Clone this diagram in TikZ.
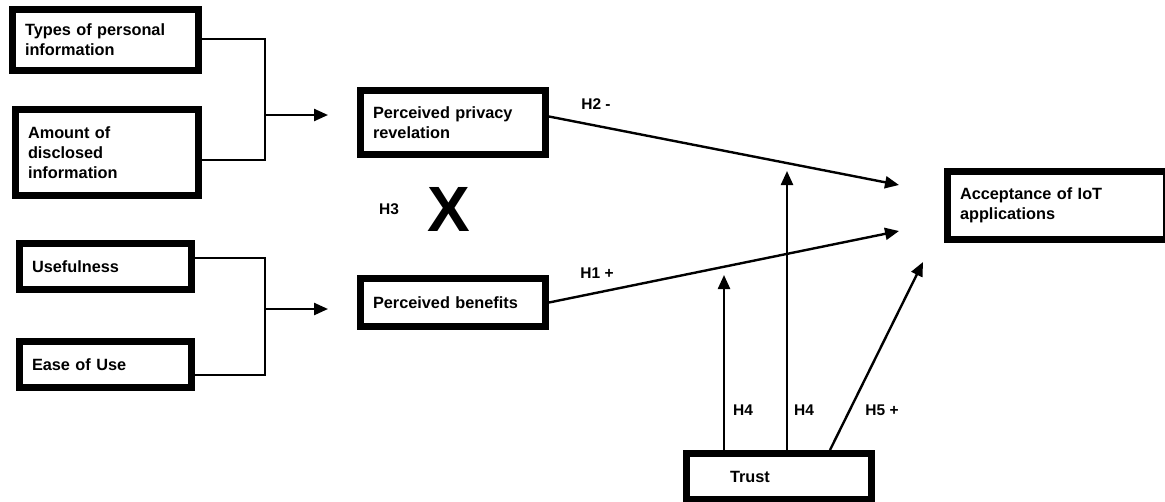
\documentclass[tikz,border=0pt]{standalone}
\usepackage{fontspec}
\setmainfont{Liberation Sans}
\usepackage{tikz}
\usetikzlibrary{arrows.meta,positioning}

\tikzset{
  factor/.style={draw,line width=7pt,inner xsep=12.5pt,inner ysep=0pt,
    align=left,font=\bfseries\fontsize{16.3}{20}\selectfont},
  link/.style={line width=2.4pt},
  arrowlink/.style={link,-{Triangle[length=14pt,width=12pt]}},
  hyplabel/.style={font=\bfseries\fontsize{15.5}{18}\selectfont,inner sep=0pt}
}

\begin{document}
\begin{tikzpicture}[x=1pt,y=-1pt]
\useasboundingbox (0,0) rectangle (1165,501);
% antecedents
\node[factor,text width=161pt,minimum height=61pt] (types) at (105.5,40) {Types of personal\\information};
\node[factor,text width=158pt,minimum height=86pt] (amount) at (107,152.5) {Amount of\\disclosed\\information};
\node[factor,text width=147pt,minimum height=46pt] (useful) at (105.5,266.5) {Usefulness};
\node[factor,text width=147pt,minimum height=46pt] (ease) at (105.5,364.5) {Ease of Use};
% mediators and outcome
\node[factor,text width=160pt,minimum height=64pt] (privacy) at (453,122.5) {Perceived privacy\\revelation};
\node[factor,text width=160pt,minimum height=48pt] (benefits) at (453,302.5) {Perceived benefits};
\node[factor,text width=194pt,minimum height=68pt] (accept) at (1057,205.5) {Acceptance of IoT\\applications};
\node[factor,text width=160pt,minimum height=46pt] (trust) at (779,476.5) {\hspace*{31pt}Trust};

% free ends
\coordinate (jnA) at (265,115);
\coordinate (tipA) at (328,115);
\coordinate (jnB) at (265,309);
\coordinate (tipB) at (328,309);
\coordinate (tipH2) at (899,185);
\coordinate (tipH1) at (899,231);
\coordinate (tipH4a) at (724,275);
\coordinate (tipH4b) at (787,171);
\coordinate (tipH5) at (923,262);

% brackets
\draw[link] ([yshift=1pt]types.east) -| (jnA) |- ([yshift=-7.5pt]amount.east);
\draw[arrowlink] (jnA) -- (tipA);
\draw[link] ([yshift=8.5pt]useful.east) -| (jnB) |- ([yshift=-10.5pt]ease.east);
\draw[arrowlink] (jnB) -- (tipB);

% paths to acceptance
\draw[arrowlink] ([yshift=6pt]privacy.east) -- (tipH2);
\draw[arrowlink] (benefits.east) -- (tipH1);
\draw[arrowlink] ([xshift=-55pt]trust.north) -- (tipH4a);
\draw[arrowlink] ([xshift=8pt]trust.north) -- (tipH4b);
\draw[arrowlink] ([xshift=51pt]trust.north) -- (tipH5);

% hypothesis labels
\node[hyplabel] (h2) at (596,104) {H2 -};
\node[hyplabel] (h1) at (597,273) {H1 +};
\node[hyplabel] (h3) at (389,209) {H3};
\node[inner sep=0pt,font=\bfseries\fontsize{64}{64}\selectfont] (cross) at (449,209) {X};
\node[hyplabel] (h4a) at (743,410) {H4};
\node[hyplabel] (h4b) at (804,410) {H4};
\node[hyplabel] (h5) at (882,410) {H5 +};
\end{tikzpicture}
\end{document}
